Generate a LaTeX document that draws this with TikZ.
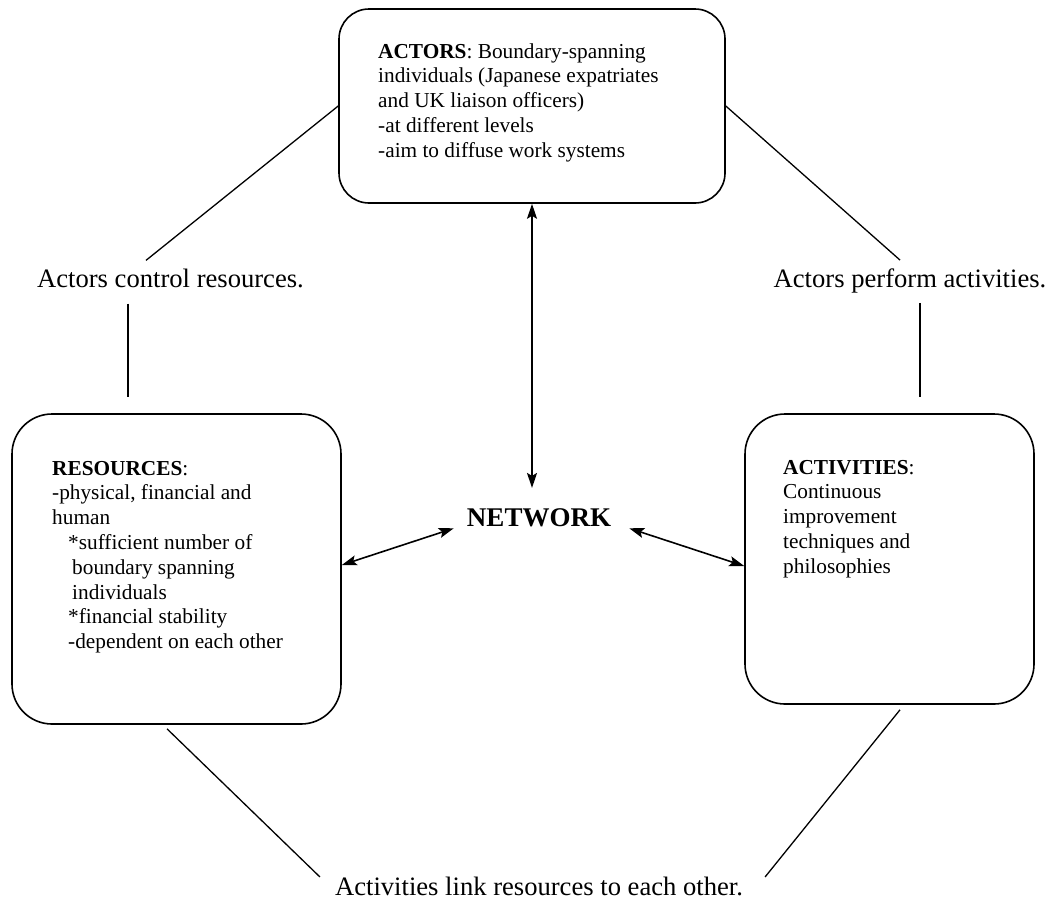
\documentclass[tikz,border=0pt]{standalone}
\usepackage{fontspec}
\setmainfont{Liberation Serif}
\usetikzlibrary{positioning}
\usetikzlibrary{calc}
\usetikzlibrary{arrows.meta}

\tikzset{
  roundbox/.style={draw, line width=1.6pt, rounded corners=#1, inner sep=0pt},
  roundbox/.default=40pt,
  boxtext/.style={inner sep=0pt, align=left, anchor=base west, font=\fontsize{21.3}{24.8}\selectfont},
  lbl/.style={inner sep=0pt, anchor=base, font=\fontsize{26.6}{30}\selectfont},
  link/.style={line width=1.3pt},
  twoway/.style={line width=1.6pt, {Stealth[length=15pt,width=10pt,inset=3pt]}-{Stealth[length=15pt,width=10pt,inset=3pt]}}
}

\begin{document}
\begin{tikzpicture}[x=1pt,y=-1pt]
\useasboundingbox (0,0) rectangle (1048,900);
\node[roundbox=30pt, minimum width=386pt, minimum height=194pt] (actors) at (532,106) {};
\node[boxtext] (actorstxt) at (378,157.2) {\textbf{ACTORS}: Boundary-spanning\\
individuals (Japanese expatriates\\
and UK liaison officers)\\
-at different levels\\
-aim to diffuse work systems};
\node[roundbox, minimum width=329pt, minimum height=310pt] (resources) at (176.5,569) {};
\node[boxtext] (resourcestxt) at (52,648.6) {\textbf{RESOURCES}:\\
-physical, financial and\\
human\\
\hspace*{16pt}*sufficient number of\\
\hspace*{20pt}boundary spanning\\
\hspace*{20pt}individuals\\
\hspace*{16pt}*financial stability\\
\hspace*{16pt}-dependent on each other};
\node[roundbox, minimum width=289pt, minimum height=290pt] (activities) at (889.5,559) {};
\node[boxtext] (activitiestxt) at (783,573.2) {\textbf{ACTIVITIES}:\\
Continuous\\
improvement\\
techniques and\\
philosophies};
\node[inner sep=0pt, anchor=base, font=\fontsize{27}{30}\selectfont\bfseries] (network) at (539,526) {NETWORK};
\node[lbl] (control) at (170.5,287) {Actors control resources.};
\node[lbl] (perform) at (910,287) {Actors perform activities.};
\node[lbl] (linkres) at (539,895) {Activities link resources to each other.};

\coordinate (nettop) at ([yshift=20pt]network.north);
\draw[twoway] (actors.south) -- (nettop -| actors.south);
\draw[twoway] ([yshift=4pt]resources.east) -- ([xshift=-13pt,yshift=-11pt]network.west);
\draw[twoway] ([xshift=18pt,yshift=-11pt]network.east) -- ([yshift=-7pt]activities.west);

\draw[link] (actors.west) -- ([xshift=-24.5pt,yshift=8pt]control.north);
\draw[link] ([xshift=-42.5pt,yshift=-16pt]control.south) -- ([xshift=-48.5pt,yshift=16pt]resources.north);
\draw[link] (actors.east) -- ([xshift=-10pt,yshift=8pt]perform.north);
\draw[link] ([xshift=10pt,yshift=-10pt]perform.south) -- ([xshift=30.5pt,yshift=16pt]activities.north);
\draw[link] ([xshift=-9.5pt,yshift=-4pt]resources.south) -- ([xshift=-15pt,yshift=9pt]linkres.west);
\draw[link] ([xshift=10.5pt,yshift=-5pt]activities.south) -- ([xshift=22pt,yshift=9pt]linkres.east);
\end{tikzpicture}
\end{document}
